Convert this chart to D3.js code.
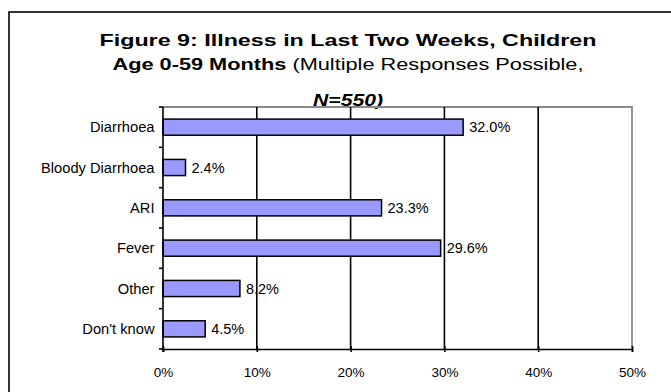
<!DOCTYPE html>
<html>
<head>
<meta charset="utf-8">
<script src="https://cdn.jsdelivr.net/npm/d3@7"></script>
<style>
  html, body { margin: 0; padding: 0; background: #fff; }
  svg { display: block; font-family: Arial, "Liberation Sans", sans-serif; }
</style>
</head>
<body>
<svg id="chart" width="671" height="392"></svg>
<script>
// Illness categories and the share of children reporting each (%)
const categories = ["Diarrhoea", "Bloody Diarrhoea", "ARI", "Fever", "Other", "Don't know"];
const values = [32.0, 2.4, 23.3, 29.6, 8.2, 4.5];
const xTicks = [0, 10, 20, 30, 40, 50];
const titleLine1 = "Figure 9: Illness in Last Two  Weeks, Children";
const titleLine2Bold = "Age 0-59 Months";
const titleLine2Rest = " (Multiple Responses Possible,";
const titleLine3 = "N=550)";

const svg = d3.select("#chart");
const plot = { left: 163, right: 632, top: 107, bottom: 349 };

// Outer frame (runs past the right and bottom edges)
svg.append("rect")
  .attr("x", 9).attr("y", 12)
  .attr("width", 700).attr("height", 420)
  .attr("fill", "none").attr("stroke", "#000").attr("stroke-width", 1.6);

const x = d3.scaleLinear().domain([0, 50]).range([plot.left, plot.right]);
const y = d3.scaleBand().domain(categories)
  .range([plot.top, plot.bottom])
  .paddingInner(0.6).paddingOuter(0.3);
const step = y.step();

// Title
const cx = 348;
svg.append("text")
  .attr("x", cx).attr("y", 46)
  .attr("text-anchor", "middle")
  .attr("font-size", 17).attr("font-weight", "bold")
  .attr("textLength", 497).attr("lengthAdjust", "spacingAndGlyphs")
  .text(titleLine1);
const t2 = svg.append("text")
  .attr("x", cx).attr("y", 70)
  .attr("text-anchor", "middle")
  .attr("font-size", 16)
  .attr("textLength", 471).attr("lengthAdjust", "spacingAndGlyphs");
t2.append("tspan").attr("font-weight", "bold").text(titleLine2Bold);
t2.append("tspan").text(titleLine2Rest);
svg.append("text")
  .attr("x", cx).attr("y", 106)
  .attr("text-anchor", "middle")
  .attr("font-size", 16).attr("font-weight", "bold").attr("font-style", "italic")
  .attr("textLength", 70).attr("lengthAdjust", "spacingAndGlyphs")
  .text(titleLine3);

// Plot border: top and right in grey
svg.append("path")
  .attr("d", `M${plot.left},${plot.top}H${plot.right}V${plot.bottom}`)
  .attr("fill", "none").attr("stroke", "#8a8a8a").attr("stroke-width", 1.8);

// Vertical gridlines
svg.append("g").selectAll("line")
  .data(xTicks.filter(d => d > 0 && d < 50))
  .join("line")
  .attr("x1", d => x(d)).attr("x2", d => x(d))
  .attr("y1", plot.top).attr("y2", plot.bottom)
  .attr("stroke", "#000").attr("stroke-width", 1.6);

// Bars
svg.append("g").selectAll("rect")
  .data(categories)
  .join("rect")
  .attr("x", x(0))
  .attr("y", d => y(d))
  .attr("width", (d, i) => x(values[i]) - x(0))
  .attr("height", y.bandwidth())
  .attr("fill", "#9999ff")
  .attr("stroke", "#000").attr("stroke-width", 1.5);

// Value labels
svg.append("g").selectAll("text")
  .data(categories)
  .join("text")
  .attr("x", (d, i) => x(values[i]) + 6)
  .attr("y", d => y(d) + y.bandwidth() / 2)
  .attr("dy", "0.36em")
  .attr("font-size", 14.5)
  .text((d, i) => values[i].toFixed(1) + "%");

// X axis
const xAxis = svg.append("g")
  .attr("transform", `translate(0,${plot.bottom})`)
  .call(d3.axisBottom(x).tickValues(xTicks).tickSize(3).tickPadding(0)
    .tickFormat(d => d + "%"));
xAxis.select(".domain").attr("stroke", "#000").attr("stroke-width", 1.6);
xAxis.selectAll(".tick line").attr("y1", -3).attr("y2", 3)
  .attr("stroke", "#000").attr("stroke-width", 1.6);
xAxis.selectAll(".tick text")
  .attr("y", 23).attr("dy", "0.36em")
  .attr("font-size", 13.5).attr("font-family", null).attr("fill", "#000");

// Y axis with ticks on the category boundaries
svg.append("line")
  .attr("x1", plot.left).attr("x2", plot.left)
  .attr("y1", plot.top).attr("y2", plot.bottom + 3)
  .attr("stroke", "#000").attr("stroke-width", 1.6);
svg.append("g").selectAll("line")
  .data(d3.range(categories.length + 1))
  .join("line")
  .attr("x1", plot.left - 4).attr("x2", plot.left)
  .attr("y1", i => plot.top + i * step).attr("y2", i => plot.top + i * step)
  .attr("stroke", "#000").attr("stroke-width", 1.6);
svg.append("g").selectAll("text")
  .data(categories)
  .join("text")
  .attr("x", plot.left - 8.5)
  .attr("y", d => y(d) + y.bandwidth() / 2)
  .attr("dy", "0.36em")
  .attr("text-anchor", "end")
  .attr("font-size", 14.7)
  .text(d => d);
</script>
</body>
</html>
